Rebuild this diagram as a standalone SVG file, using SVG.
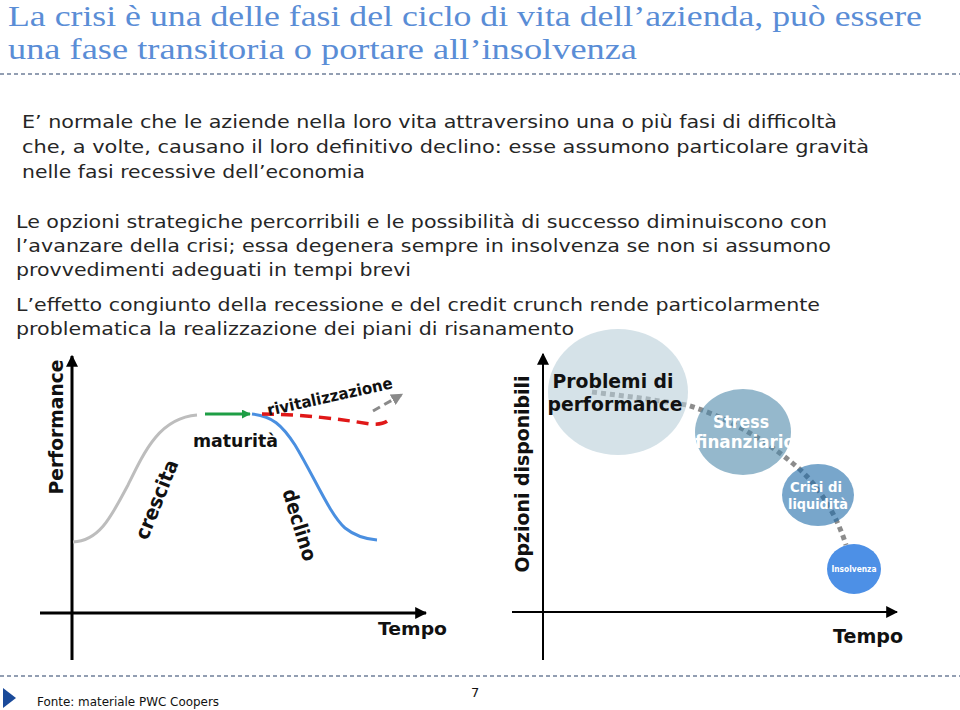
<svg xmlns="http://www.w3.org/2000/svg" width="960" height="710" viewBox="0 0 960 710">
<defs>
<style>
.title{font-family:"Liberation Serif","Times New Roman",serif;font-size:29px;fill:#5A8DD6}
.body{font-family:"DejaVu Sans",Verdana,sans-serif;font-size:18px;fill:#262626}
.lbl{font-family:"DejaVu Sans",Verdana,sans-serif;font-weight:bold;fill:#111}
.wt{font-family:"DejaVu Sans",Verdana,sans-serif;font-weight:bold;fill:#fff;text-anchor:middle}
.axis{stroke:#000;fill:none}
.sep{stroke:#6F7F99;stroke-width:1.5;stroke-dasharray:4 3}
</style>
<marker id="ah" viewBox="0 0 10 10" refX="9" refY="5" markerWidth="4" markerHeight="4" orient="auto" markerUnits="strokeWidth"><path d="M0,0 L10,5 L0,10 z" fill="#000"/></marker>
<marker id="ahThin" viewBox="0 0 10 10" refX="9" refY="5" markerWidth="6" markerHeight="6" orient="auto" markerUnits="strokeWidth"><path d="M0,0 L10,5 L0,10 z" fill="#000"/></marker>
<marker id="ahG" viewBox="0 0 10 10" refX="9" refY="5" markerWidth="3" markerHeight="3" orient="auto" markerUnits="strokeWidth"><path d="M0,0 L10,5 L0,10 z" fill="#1E9E45"/></marker>
<marker id="ahGr" viewBox="0 0 10 10" refX="8" refY="5" markerWidth="4" markerHeight="4" orient="auto" markerUnits="strokeWidth"><path d="M0,0 L10,5 L0,10 z" fill="#8A8A8A"/></marker>
</defs>
<rect width="960" height="710" fill="#fff"/>

<g id="title">
<text class="title" x="8" y="26" textLength="914" lengthAdjust="spacingAndGlyphs">La crisi è una delle fasi del ciclo di vita dell’azienda, può essere</text>
<text class="title" x="8" y="59" textLength="629" lengthAdjust="spacingAndGlyphs">una fase transitoria o portare all’insolvenza</text>
<line class="sep" x1="0" y1="74" x2="960" y2="74"/>
</g>

<g id="body-text">
<text class="body" x="22" y="128" textLength="815" lengthAdjust="spacingAndGlyphs">E’ normale che le aziende nella loro vita attraversino una o più fasi di difficoltà</text>
<text class="body" x="22" y="153" textLength="847" lengthAdjust="spacingAndGlyphs">che, a volte, causano  il loro definitivo declino: esse assumono particolare gravità</text>
<text class="body" x="22" y="178" textLength="343" lengthAdjust="spacingAndGlyphs">nelle fasi recessive dell’economia</text>
<text class="body" x="16" y="228" textLength="811" lengthAdjust="spacingAndGlyphs">Le opzioni strategiche percorribili e le possibilità di successo diminuiscono con</text>
<text class="body" x="16" y="252" textLength="815" lengthAdjust="spacingAndGlyphs">l’avanzare della crisi; essa degenera sempre in insolvenza se non si assumono</text>
<text class="body" x="16" y="276" textLength="395" lengthAdjust="spacingAndGlyphs">provvedimenti adeguati in tempi brevi</text>
<text class="body" x="16" y="311" textLength="804" lengthAdjust="spacingAndGlyphs">L’effetto congiunto della recessione e del credit crunch rende particolarmente</text>
<text class="body" x="16" y="335" textLength="558" lengthAdjust="spacingAndGlyphs">problematica la realizzazione dei piani di risanamento</text>
</g>

<g id="left-chart">
<line class="axis" x1="72" y1="660" x2="72" y2="356" stroke-width="3" marker-end="url(#ah)"/>
<line class="axis" x1="40" y1="613" x2="426" y2="613" stroke-width="3" marker-end="url(#ah)"/>
<text class="lbl" font-size="19" text-anchor="middle" transform="translate(63,427) rotate(-90)" textLength="135" lengthAdjust="spacingAndGlyphs">Performance</text>
<text class="lbl" font-size="18" x="378" y="635" textLength="69" lengthAdjust="spacingAndGlyphs">Tempo</text>
</g>

<g id="curves">
<path id="crescita-curve" d="M73,542 C100,541 112,515 128,485 C145,450 160,418 197,415" fill="none" stroke="#BDBDBD" stroke-width="3"/>
<line id="maturita-arrow" x1="205" y1="414" x2="250" y2="414" stroke="#1E9E45" stroke-width="3" marker-end="url(#ahG)"/>
<path id="declino-curve" d="M252,414 C272,416 282,425 295,445 C315,478 330,515 345,528 C355,536 365,539 377,540" fill="none" stroke="#4A8FE0" stroke-width="3"/>
<path id="rivitalizzazione-curve" d="M262,414 C300,414 340,419 370,424 C382,425 388,422 390,418" fill="none" stroke="#E01818" stroke-width="3.5" stroke-dasharray="12 7"/>
<line id="rivitalizzazione-arrow" x1="373" y1="411" x2="401" y2="395" stroke="#8A8A8A" stroke-width="3" stroke-dasharray="8 5" marker-end="url(#ahGr)"/>
</g>

<g id="phase-labels">
<text class="lbl" font-size="18" x="193" y="447" textLength="85" lengthAdjust="spacingAndGlyphs">maturità</text>
<text class="lbl" font-size="20" text-anchor="middle" transform="translate(163,502) rotate(-68)" textLength="84" lengthAdjust="spacingAndGlyphs">crescita</text>
<text class="lbl" font-size="20" text-anchor="middle" transform="translate(293,527) rotate(73)" textLength="74" lengthAdjust="spacingAndGlyphs">declino</text>
<text class="lbl" font-size="16" text-anchor="middle" transform="translate(331,402) rotate(-12.5)" textLength="128" lengthAdjust="spacingAndGlyphs">rivitalizzazione</text>
</g>

<g id="right-chart">
<line class="axis" x1="543" y1="660" x2="543" y2="354" stroke-width="2" marker-end="url(#ahThin)"/>
<line class="axis" x1="512" y1="612" x2="897" y2="612" stroke-width="2" marker-end="url(#ahThin)"/>
<text class="lbl" font-size="19" text-anchor="middle" transform="translate(529,474) rotate(-90)" textLength="197" lengthAdjust="spacingAndGlyphs">Opzioni disponibili</text>
<text class="lbl" font-size="20" x="833" y="643" textLength="70" lengthAdjust="spacingAndGlyphs">Tempo</text>
</g>

<g id="connectors">
<path d="M592,392 L640,398 L687,405 C720,415 760,435 797,467 C815,482 835,510 846,545" fill="none" stroke="#8C8C8C" stroke-width="5" stroke-dasharray="5 4"/>
</g>

<g id="node-problemi">
<ellipse cx="618" cy="392" rx="70" ry="63" fill="#B9CFD9" fill-opacity="0.6"/>
<text class="lbl" font-size="19" text-anchor="middle" x="613" y="388" textLength="121" lengthAdjust="spacingAndGlyphs">Problemi di</text>
<text class="lbl" font-size="19" text-anchor="middle" x="615" y="411" textLength="135" lengthAdjust="spacingAndGlyphs">performance</text>
</g>

<g id="node-stress">
<ellipse cx="743" cy="432" rx="48" ry="43" fill="#4E89AA" fill-opacity="0.6"/>
<text class="wt" font-size="17" x="741" y="428" textLength="56" lengthAdjust="spacingAndGlyphs">Stress</text>
<text class="wt" font-size="17" x="745" y="448" textLength="100" lengthAdjust="spacingAndGlyphs">finanziario</text>
</g>

<g id="node-crisi">
<ellipse cx="818" cy="495" rx="36" ry="31" fill="#1E6BA8" fill-opacity="0.6"/>
<text class="wt" font-size="14" x="816" y="492" textLength="52" lengthAdjust="spacingAndGlyphs">Crisi di</text>
<text class="wt" font-size="14" x="818" y="509" textLength="60" lengthAdjust="spacingAndGlyphs">liquidità</text>
</g>

<g id="node-insolvenza">
<ellipse cx="854" cy="569" rx="27" ry="25" fill="#4D90E6"/>
<text class="wt" font-size="9" x="854" y="572" textLength="45" lengthAdjust="spacingAndGlyphs">Insolvenza</text>
</g>

<g id="footer">
<line class="sep" x1="0" y1="676" x2="960" y2="676"/>
<polygon points="3,688 16,698 3,708" fill="#1A4A9A"/>
<text x="37" y="706" font-family="'DejaVu Sans',Verdana,sans-serif" font-size="13" fill="#111" textLength="182" lengthAdjust="spacingAndGlyphs">Fonte: materiale PWC Coopers</text>
<text x="471" y="697" font-family="'DejaVu Sans',Verdana,sans-serif" font-size="13" fill="#111">7</text>
</g>
</svg>
